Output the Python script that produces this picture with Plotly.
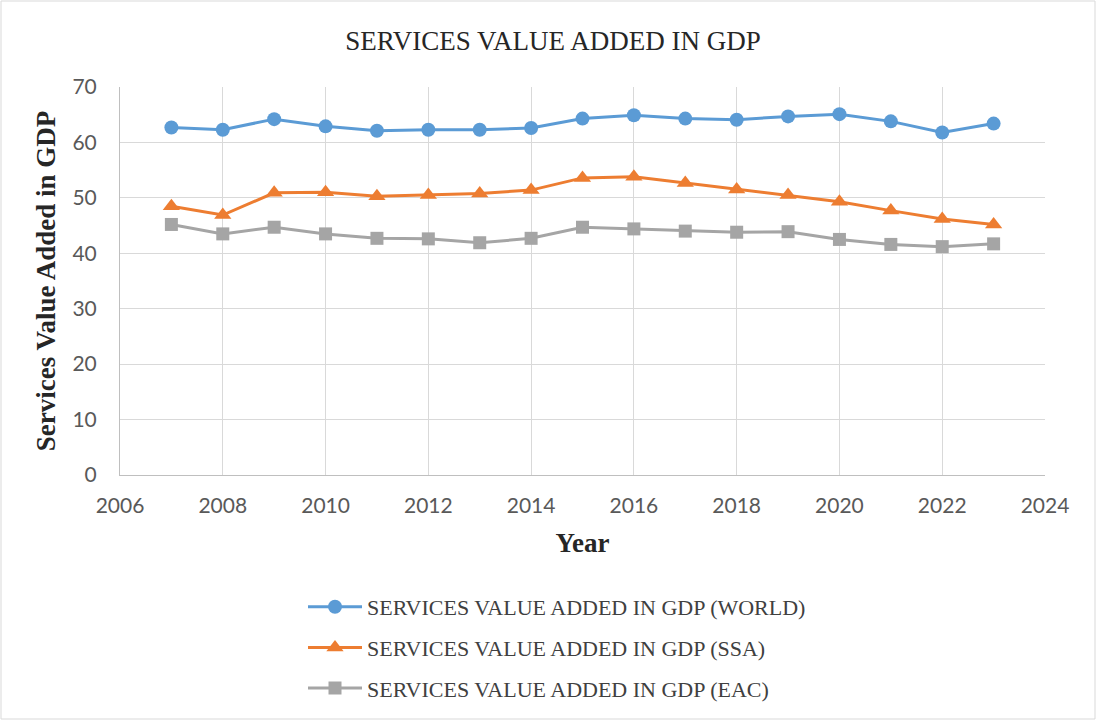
import plotly.graph_objects as go

years = list(range(2007, 2024))
world = [62.7, 62.3, 64.2, 62.9, 62.1, 62.3, 62.3, 62.6, 64.3, 64.9, 64.3, 64.1, 64.7, 65.1, 63.8, 61.8, 63.4]
ssa = [48.5, 46.9, 50.9, 51.0, 50.3, 50.5, 50.8, 51.4, 53.6, 53.8, 52.7, 51.5, 50.5, 49.3, 47.7, 46.2, 45.2]
eac = [45.2, 43.5, 44.7, 43.5, 42.7, 42.6, 41.9, 42.7, 44.7, 44.4, 44.0, 43.8, 43.9, 42.5, 41.6, 41.2, 41.7]

series = [
    ("SERVICES VALUE ADDED IN GDP (WORLD)", world, "#5B9BD5", "circle", 14),
    ("SERVICES VALUE ADDED IN GDP (SSA)", ssa, "#ED7D31", "triangle-up", 15),
    ("SERVICES VALUE ADDED IN GDP (EAC)", eac, "#A5A5A5", "square", 13),
]

serif = "Liberation Serif, Times New Roman, serif"
sans = "Lato, Carlito, Calibri, Open Sans, sans-serif"

fig = go.Figure()
for i, (name, vals, color, symbol, size) in enumerate(series):
    fig.add_trace(go.Scatter(
        x=years, y=vals, name=name, mode="lines+markers",
        line=dict(color=color, width=3),
        marker=dict(symbol=symbol, size=size, color=color),
        legendgroup=f"g{i}",
    ))

W, H = 1097, 721
L, R, T, B = 120, 52, 87, 246
pw, ph = W - L - R, H - T - B

fig.update_layout(
    width=W, height=H,
    margin=dict(l=L, r=R, t=T, b=B, autoexpand=False),
    paper_bgcolor="white", plot_bgcolor="white",
    title=dict(text="SERVICES VALUE ADDED IN GDP", x=(553 - L) / pw, xanchor="center",
               xref="paper", y=1 - 41 / H, yanchor="middle",
               font=dict(family=serif, size=27, color="#262626")),
    xaxis=dict(range=[2006, 2024], dtick=2, tick0=2006, automargin=False,
               showgrid=True, gridcolor="#D9D9D9", gridwidth=1,
               showline=True, linecolor="#BFBFBF", linewidth=1,
               ticks="", zeroline=False, ticklabelstandoff=12,
               tickfont=dict(family=sans, size=21, color="#595959"),
               title=dict(text="<b>Year</b>", standoff=16,
                          font=dict(family=serif, size=27, color="#262626"))),
    yaxis=dict(range=[0, 70], dtick=10, automargin=False,
               showgrid=True, gridcolor="#D9D9D9", gridwidth=1,
               showline=True, linecolor="#BFBFBF", linewidth=1,
               ticks="", zeroline=False, ticklabelstandoff=18,
               tickfont=dict(family=sans, size=21, color="#595959"),
               title=dict(text="<b>Services Value Added in GDP</b>", standoff=8,
                          font=dict(family=serif, size=27, color="#262626"))),
    legend=dict(orientation="v", x=(303 - L) / pw, xanchor="left",
                y=(T + ph - 586) / ph, yanchor="top",
                font=dict(family=serif, size=22, color="#404040"),
                tracegroupgap=9, itemwidth=54,
                bgcolor="rgba(0,0,0,0)"),
    showlegend=True,
    shapes=[dict(type="rect", xref="paper", yref="paper",
                 x0=(1 - L) / pw, x1=(W - 2 - L) / pw,
                 y0=(T + ph - (H - 2)) / ph, y1=(T + ph - 1) / ph,
                 line=dict(color="#D9D9D9", width=1), fillcolor="rgba(0,0,0,0)")],
)

fig.write_html("out.html")
